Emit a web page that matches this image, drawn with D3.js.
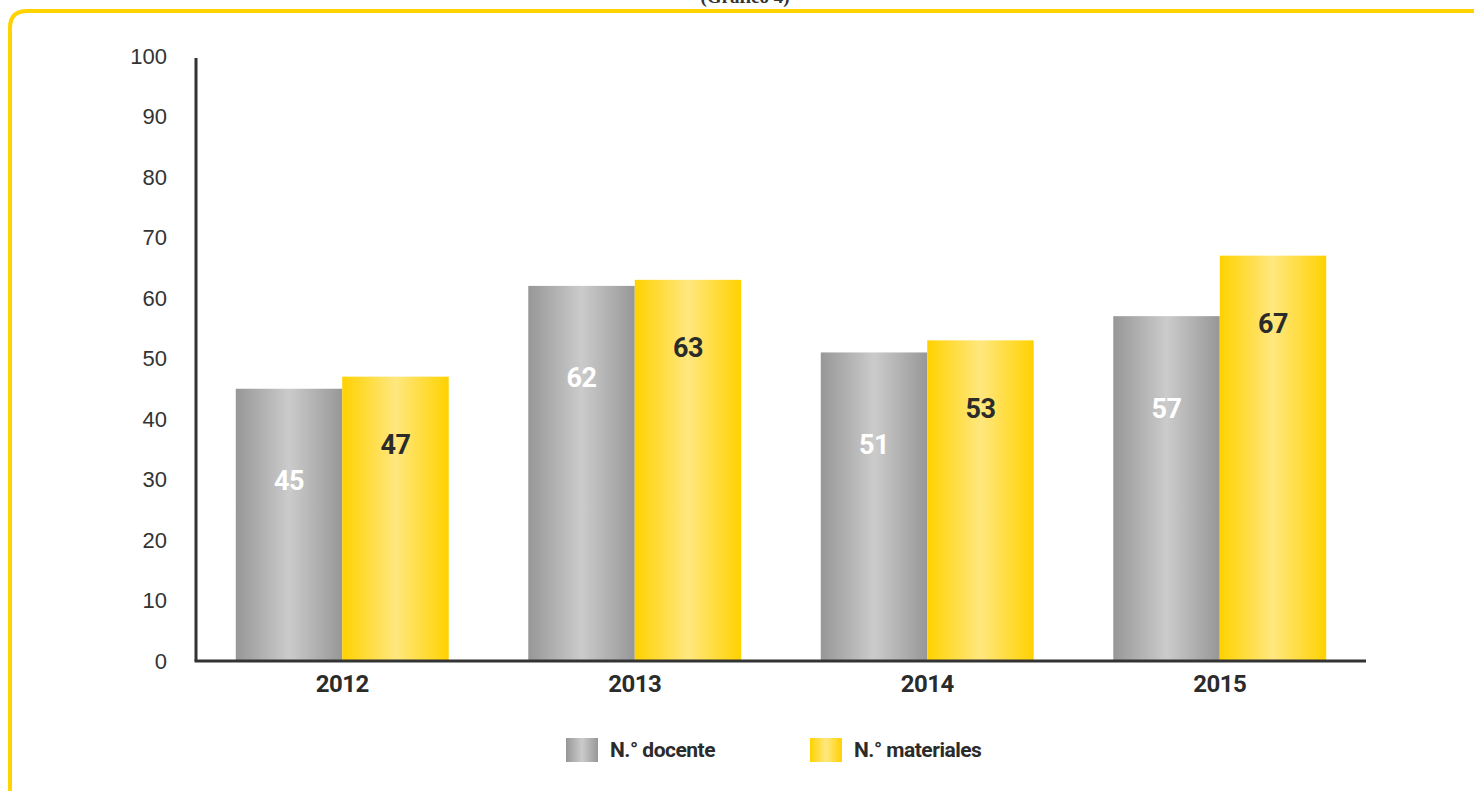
<!DOCTYPE html>
<html>
<head>
<meta charset="utf-8">
<script src="https://cdn.jsdelivr.net/npm/d3@7"></script>
<style>
  body { margin: 0; background: #fff; }
  .tick-label { font-family: "Liberation Sans", Arial, sans-serif; font-size: 22px; fill: #333; }
  .cond { font-family: "Liberation Sans Narrow", "Roboto", "Liberation Sans", sans-serif; font-weight: bold; letter-spacing: -0.5px; }
</style>
</head>
<body>
<svg width="1474" height="791"></svg>
<script>
const years = ['2012', '2013', '2014', '2015'];
const docente = [45, 62, 51, 57];
const materiales = [47, 63, 53, 67];
const seriesNames = ['N.° docente', 'N.° materiales'];
const yTicks = [0, 10, 20, 30, 40, 50, 60, 70, 80, 90, 100];

const svg = d3.select('svg');
const width = +svg.attr('width');
const height = +svg.attr('height');

const margin = {top: 56, right: 108, bottom: 130, left: 196};
const innerWidth = width - margin.left - margin.right;
const innerHeight = height - margin.top - margin.bottom;

// gradients
const defs = svg.append('defs');
const addGrad = (id, edge, mid) => {
	const g = defs.append('linearGradient').attr('id', id)
		.attr('x1', '0%').attr('x2', '100%').attr('y1', '0%').attr('y2', '0%');
	g.append('stop').attr('offset', '0%').attr('stop-color', edge);
	g.append('stop').attr('offset', '50%').attr('stop-color', mid);
	g.append('stop').attr('offset', '100%').attr('stop-color', edge);
};
addGrad('gGrey', '#979797', '#cbcbcb');
addGrad('gYellow', '#ffd200', '#ffe77f');

// yellow frame
svg.append('path')
	.attr('d', 'M10,800 L10,28 Q10,11 27,11 L1480,11')
	.attr('fill', 'none')
	.attr('stroke', '#ffd200')
	.attr('stroke-width', 4);

// caption cut by the page edge
svg.append('text')
	.attr('x', 745).attr('y', 3)
	.attr('text-anchor', 'middle')
	.attr('font-family', '"Liberation Serif", serif')
	.attr('font-weight', 'bold')
	.attr('font-size', 19)
	.attr('fill', '#333')
	.text('(Gráfico 4)');

const g = svg.append('g')
	.attr('transform', `translate(${margin.left}, ${margin.top})`);

const yScale = d3.scaleLinear()
	.domain([0, 100])
	.range([innerHeight, 0]);

const xScale = d3.scaleBand()
	.domain(years)
	.range([0, innerWidth])
	.paddingInner(0.272)
	.paddingOuter(0.136);

const xSub = d3.scaleBand()
	.domain([0, 1])
	.range([0, xScale.bandwidth()]);

const yAxis = d3.axisLeft(yScale).tickValues(yTicks).tickSize(0).tickPadding(29);
const yAxisG = g.append('g').call(yAxis);
yAxisG.select('.domain').remove();
yAxisG.selectAll('text').attr('class', 'tick-label').attr('font-size', null).attr('font-family', null);

const xAxis = d3.axisBottom(xScale).tickSize(0).tickPadding(14);
const xAxisG = g.append('g')
	.attr('transform', `translate(0, ${innerHeight})`)
	.call(xAxis);
xAxisG.select('.domain').remove();
xAxisG.selectAll('text')
	.attr('class', 'cond')
	.attr('font-size', 24)
	.attr('font-family', null)
	.attr('fill', '#2b2b2b');

const series = [
	{name: seriesNames[0], values: docente, fill: 'url(#gGrey)', labelColor: '#fff', offset: 92},
	{name: seriesNames[1], values: materiales, fill: 'url(#gYellow)', labelColor: '#2b2b2b', offset: 68}
];

series.forEach((s, i) => {
	const rows = years.map((y, j) => ({year: y, value: s.values[j]}));
	g.selectAll(null).data(rows)
		.enter().append('rect')
			.attr('x', d => xScale(d.year) + xSub(i))
			.attr('y', d => yScale(d.value))
			.attr('width', xSub.bandwidth())
			.attr('height', d => innerHeight - yScale(d.value))
			.attr('fill', s.fill);
	g.selectAll(null).data(rows)
		.enter().append('text')
			.attr('class', 'cond')
			.attr('x', d => xScale(d.year) + xSub(i) + xSub.bandwidth() / 2)
			.attr('y', d => yScale(d.value) + s.offset)
			.attr('dy', '0.35em')
			.attr('text-anchor', 'middle')
			.attr('font-size', 27)
			.attr('fill', s.labelColor)
			.text(d => d.value);
});

// axis lines
g.append('line')
	.attr('x1', 0).attr('x2', 0)
	.attr('y1', yScale(100) + 2).attr('y2', innerHeight)
	.attr('stroke', '#333').attr('stroke-width', 3);
g.append('line')
	.attr('x1', -1.5).attr('x2', innerWidth)
	.attr('y1', innerHeight).attr('y2', innerHeight)
	.attr('stroke', '#333').attr('stroke-width', 3);

// legend
const legend = svg.append('g').attr('transform', 'translate(566, 738)');
const legendX = [0, 244];
series.forEach((s, i) => {
	const lg = legend.append('g').attr('transform', `translate(${legendX[i]}, 0)`);
	lg.append('rect').attr('width', 32).attr('height', 24).attr('fill', s.fill);
	lg.append('text')
		.attr('class', 'cond')
		.attr('x', 44).attr('y', 12)
		.attr('dy', '0.35em')
		.attr('font-size', 21)
		.attr('fill', '#2b2b2b')
		.text(s.name);
});
</script>
</body>
</html>
